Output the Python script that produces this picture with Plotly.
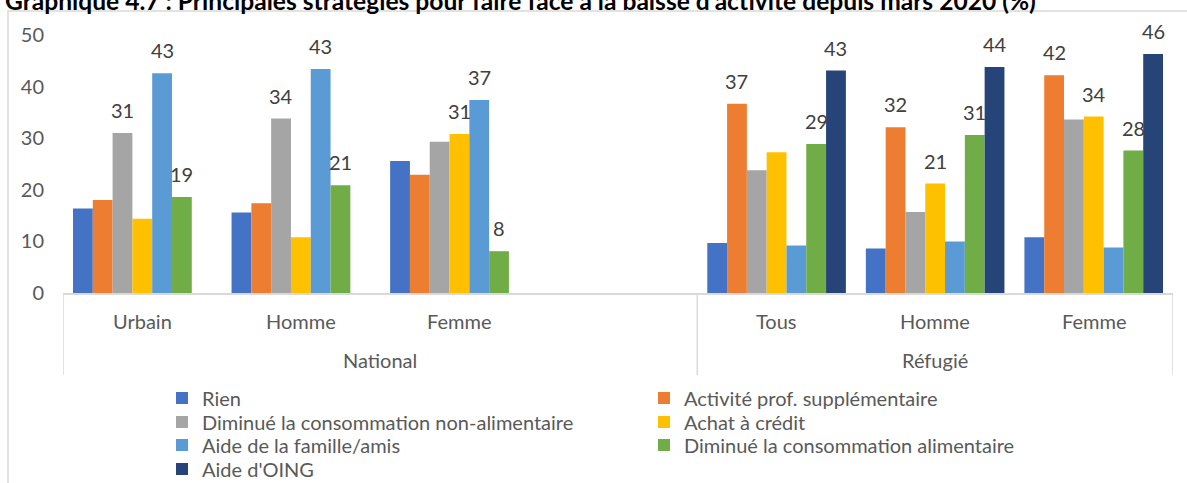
import plotly.graph_objects as go

# ---------------- data ----------------
sub_labels = ["Urbain", "Homme", "Femme", "", "Tous", "Homme", "Femme"]
group_labels = ["National", "Réfugié"]
group_spans = [(0, 3), (4, 6)]  # slot index ranges of each group

series_names = [
    "Rien",
    "Activité prof. supplémentaire",
    "Diminué la consommation non-alimentaire",
    "Achat à crédit",
    "Aide de la famille/amis",
    "Diminué la consommation alimentaire",
    "Aide d'OING",
]
series_colors = ["#4472C4", "#ED7D31", "#A5A5A5", "#FFC000", "#5B9BD5", "#70AD47", "#264478"]

rien        = [16.4, 15.6, 25.6, None, 9.7, 8.6, 10.8]
activite    = [18.0, 17.4, 22.9, None, 36.7, 32.1, 42.2]
non_alim    = [31.0, 33.8, 29.3, None, 23.8, 15.7, 33.6]
credit      = [14.4, 10.8, 30.8, None, 27.3, 21.2, 34.2]
famille     = [42.6, 43.4, 37.4, None, 9.2, 10.0, 8.8]
alim        = [18.6, 20.9, 8.1, None, 28.9, 30.6, 27.6]
oing        = [None, None, None, None, 43.1, 43.8, 46.3]

# which values carry a data label (same order as the series)
show_rien     = [0, 0, 0, 0, 0, 0, 0]
show_activite = [0, 0, 0, 0, 1, 1, 1]
show_non_alim = [1, 1, 0, 0, 0, 0, 0]
show_credit   = [0, 0, 1, 0, 0, 1, 1]
show_famille  = [1, 1, 1, 0, 0, 0, 0]
show_alim     = [1, 1, 1, 0, 1, 1, 1]
show_oing     = [0, 0, 0, 0, 1, 1, 1]

title_text = "Graphique 4.7 : Principales stratégies pour faire face à la baisse d'activité depuis mars 2020 (%)"

all_values = [rien, activite, non_alim, credit, famille, alim, oing]
all_show = [show_rien, show_activite, show_non_alim, show_credit, show_famille, show_alim, show_oing]

# ---------------- figure ----------------
FONT = "Lato, 'Liberation Sans', Arial, sans-serif"
TXT = "#595959"
LINE = "#D9D9D9"
W, H = 1187, 483
ML, MR, MT, MB = 63, 14, 35, 190
plot_w = W - ML - MR
plot_h = H - MT - MB
BARGAP = 0.126
LEGEND_COLS = 2
LEGEND_ROWS_Y = [398, 422, 445, 469]

slots = list(range(len(sub_labels)))

def legend_id(r):
    return "legend" if r == 0 else f"legend{r + 1}"

fig = go.Figure()
for i, (name, col, vals) in enumerate(zip(series_names, series_colors, all_values)):
    fig.add_trace(go.Bar(x=slots, y=vals, name=name, marker_color=col,
                         marker_line_width=0, legend=legend_id(i // LEGEND_COLS)))

def px_x(p):
    return (p - ML) / plot_w

def px_y(p):
    return (H - MB - p) / plot_h

annotations = []
n_series = len(series_names)
bw = (1 - BARGAP) / n_series
for i, (vals, shows) in enumerate(zip(all_values, all_show)):
    for s, (v, sh) in enumerate(zip(vals, shows)):
        if v is None or not sh:
            continue
        annotations.append(dict(
            x=s + (i - (n_series - 1) / 2) * bw, y=v, xref="x", yref="y",
            text=f"{v:.0f}", showarrow=False, yanchor="middle", yshift=23,
            font=dict(family=FONT, size=20, color="#404040")))

# category labels
for s, lab in enumerate(sub_labels):
    if lab:
        annotations.append(dict(x=s, y=px_y(321), xref="x", yref="paper", text=lab,
                                showarrow=False, yanchor="middle",
                                font=dict(family=FONT, size=20, color=TXT)))
shapes = []
for g, (a, b) in zip(group_labels, group_spans):
    annotations.append(dict(x=(a + b) / 2, y=px_y(360), xref="x", yref="paper", text=g,
                            showarrow=False, yanchor="middle",
                            font=dict(family=FONT, size=20, color=TXT)))
edges = sorted(set([a - 0.5 for a, b in group_spans] + [b + 0.5 for a, b in group_spans]))
for e in edges:
    shapes.append(dict(type="line", xref="x", yref="paper", x0=e, x1=e, y0=0, y1=px_y(375),
                       line=dict(color=LINE, width=1.5)))

# title (partially clipped at the top, as in the source)
annotations.append(dict(x=px_x(3), y=px_y(0.5), xref="paper", yref="paper", text=f"<b>{title_text}</b>",
                        showarrow=False, xanchor="left", yanchor="middle",
                        font=dict(family=FONT, size=24.6, color="#000000")))

# outer chart border
shapes.append(dict(type="rect", xref="paper", yref="paper", x0=px_x(8), x1=px_x(1300),
                   y0=px_y(700), y1=px_y(11), line=dict(color=LINE, width=1.5),
                   fillcolor="rgba(0,0,0,0)", layer="below"))

legends = {}
for r, yc in enumerate(LEGEND_ROWS_Y):
    legends[legend_id(r)] = dict(
        orientation="h", x=px_x(162), y=px_y(yc), xanchor="left", yanchor="middle",
        entrywidth=437, entrywidthmode="pixels", traceorder="normal",
        font=dict(family=FONT, size=20, color=TXT), itemwidth=30,
        bgcolor="rgba(0,0,0,0)", borderwidth=0)

fig.update_layout(
    width=W, height=H,
    margin=dict(l=ML, r=MR, t=MT, b=MB, pad=0, autoexpand=False),
    paper_bgcolor="white", plot_bgcolor="white",
    barmode="group", bargap=BARGAP, bargroupgap=0,
    font=dict(family=FONT, size=20, color=TXT),
    xaxis=dict(range=[-0.5, len(sub_labels) - 0.5], showticklabels=False, showgrid=False,
               zeroline=False, showline=True, linecolor=LINE, linewidth=1.5, ticks=""),
    yaxis=dict(range=[0, 50], dtick=10, showgrid=False, zeroline=False, showline=False,
               ticks="", ticklabelstandoff=18, tickfont=dict(family=FONT, size=20, color=TXT)),
    annotations=annotations, shapes=shapes,
    showlegend=True,
    **legends,
)

fig.write_html("out.html", config={"displayModeBar": False})
with open("out.html", "r", encoding="utf-8") as f:
    html = f.read()
html = html.replace("<body>", "<body style=\"margin:0;overflow:hidden\">", 1)
with open("out.html", "w", encoding="utf-8") as f:
    f.write(html)
